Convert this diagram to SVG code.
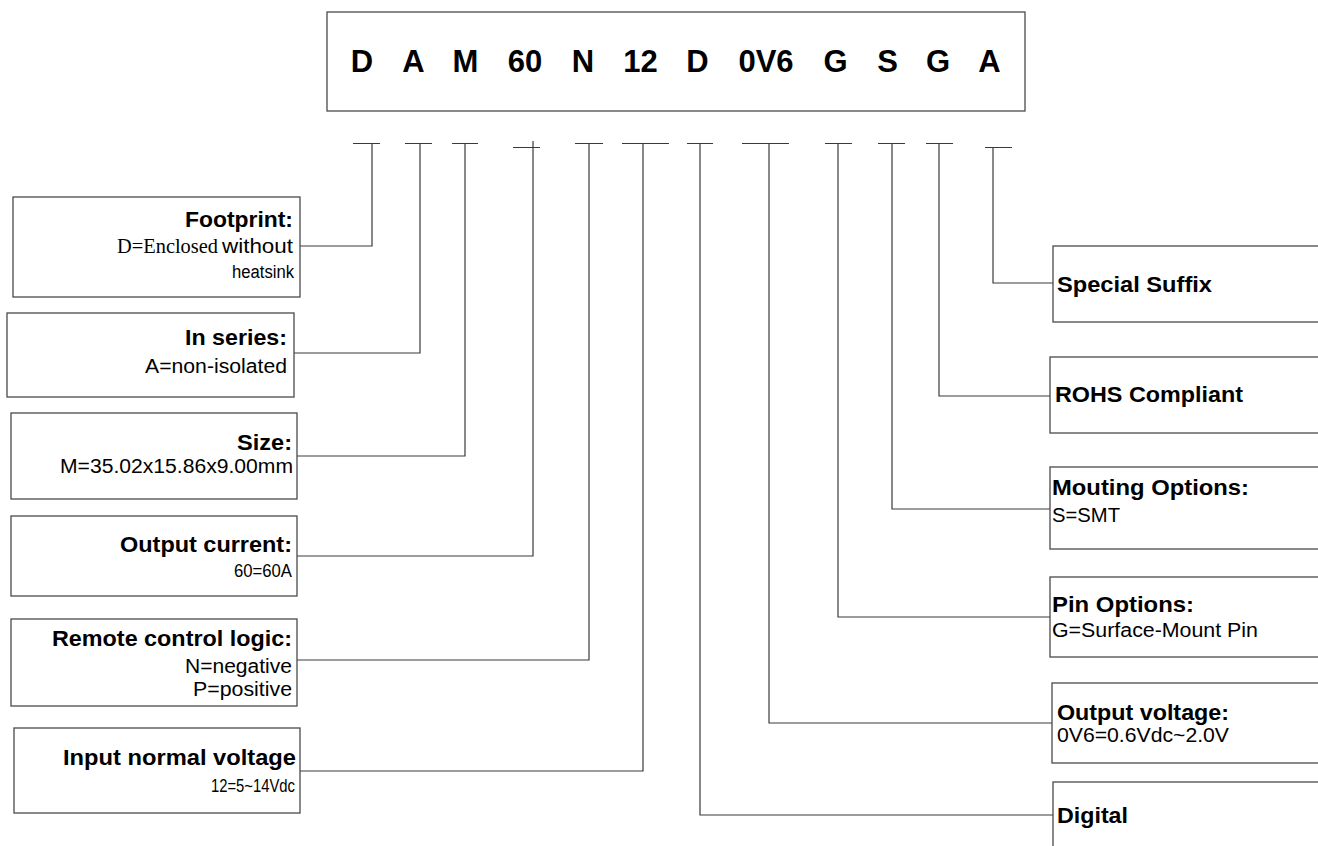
<svg xmlns="http://www.w3.org/2000/svg" width="1318" height="846" viewBox="0 0 1318 846">
<style>
.box{fill:#fff;stroke:#4a4a4a;stroke-width:1.3}
.ln{fill:none;stroke:#3a3a3a;stroke-width:1.2}
.code{font-family:"Liberation Sans",Arial,sans-serif;font-weight:bold;font-size:31px;fill:#000;text-anchor:middle}
.t{font-family:"Liberation Sans",Arial,sans-serif;font-weight:bold;font-size:22px;fill:#000}
.v{font-family:"Liberation Sans",Arial,sans-serif;font-size:20px;fill:#000}
.s{font-size:18px}
.sf{font-family:"Liberation Serif","Times New Roman",serif;font-size:21px;fill:#000}
.e{text-anchor:end}
</style>
<rect width="1318" height="846" fill="#fff"/>
<g id="code">
<rect class="box" x="327" y="12" width="698" height="99"/>
<text class="code" x="362" y="72">D</text>
<text class="code" x="413.5" y="72">A</text>
<text class="code" x="465.5" y="72">M</text>
<text class="code" x="525" y="72">60</text>
<text class="code" x="583" y="72">N</text>
<text class="code" x="640.5" y="72">12</text>
<text class="code" x="697.5" y="72">D</text>
<text class="code" x="766" y="72">0V6</text>
<text class="code" x="835.5" y="72">G</text>
<text class="code" x="887.5" y="72">S</text>
<text class="code" x="938" y="72">G</text>
<text class="code" x="989.5" y="72">A</text>
</g>
<g id="connectors">
<path class="ln" d="M353 143.5H380M372 143.5V246H300"/>
<path class="ln" d="M405 143.5H432M420 143.5V353H294"/>
<path class="ln" d="M452 143.5H478M465 143.5V456H297"/>
<path class="ln" d="M513 147.5H540M533 141V556H297"/>
<path class="ln" d="M575 143.5H603M589 143.5V660H297"/>
<path class="ln" d="M622 143.5H669M643 143.5V771H300"/>
<path class="ln" d="M687 143.5H713M700 143.5V815H1053"/>
<path class="ln" d="M742 143.5H789M769 143.5V723H1052"/>
<path class="ln" d="M825 143.5H852M838 143.5V617H1050"/>
<path class="ln" d="M878 143.5H905M892 143.5V509H1050"/>
<path class="ln" d="M926 143.5H953M939 143.5V396H1050"/>
<path class="ln" d="M985 147.5H1012M993 147.5V283H1053"/>
</g>
<g id="footprint">
<rect class="box" x="13" y="197" width="287" height="100"/>
<text class="t e" x="293" y="227" textLength="108" lengthAdjust="spacingAndGlyphs">Footprint:</text>
<text y="253"><tspan class="sf" x="117" textLength="101" lengthAdjust="spacingAndGlyphs">D=Enclosed</tspan><tspan class="v" x="222" textLength="71" lengthAdjust="spacingAndGlyphs">without</tspan></text>
<text class="v s e" x="294" y="278" textLength="62" lengthAdjust="spacingAndGlyphs">heatsink</text>
</g>
<g id="series">
<rect class="box" x="7" y="313" width="287" height="84"/>
<text class="t e" x="287" y="345" textLength="102" lengthAdjust="spacingAndGlyphs">In series:</text>
<text class="v e" x="287" y="373" textLength="142" lengthAdjust="spacingAndGlyphs">A=non-isolated</text>
</g>
<g id="size">
<rect class="box" x="11" y="413" width="286" height="86"/>
<text class="t e" x="292" y="450" textLength="55" lengthAdjust="spacingAndGlyphs">Size:</text>
<text class="v e" x="293" y="473" textLength="233" lengthAdjust="spacingAndGlyphs">M=35.02x15.86x9.00mm</text>
</g>
<g id="current">
<rect class="box" x="11" y="516" width="286" height="80"/>
<text class="t e" x="292" y="552" textLength="172" lengthAdjust="spacingAndGlyphs">Output current:</text>
<text class="v s e" x="292" y="577" textLength="58" lengthAdjust="spacingAndGlyphs">60=60A</text>
</g>
<g id="remote">
<rect class="box" x="11" y="619" width="286" height="87"/>
<text class="t e" x="292" y="646" textLength="240" lengthAdjust="spacingAndGlyphs">Remote control logic:</text>
<text class="v e" x="292" y="673" textLength="107" lengthAdjust="spacingAndGlyphs">N=negative</text>
<text class="v e" x="292" y="696" textLength="99" lengthAdjust="spacingAndGlyphs">P=positive</text>
</g>
<g id="input">
<rect class="box" x="14" y="728" width="286" height="85"/>
<text class="t e" x="296" y="765" textLength="233" lengthAdjust="spacingAndGlyphs">Input normal voltage</text>
<text class="v s e" x="295" y="792" textLength="84" lengthAdjust="spacingAndGlyphs">12=5~14Vdc</text>
</g>
<g id="suffix">
<rect class="box" x="1053" y="246" width="300" height="76"/>
<text class="t" x="1057" y="292" textLength="155" lengthAdjust="spacingAndGlyphs">Special Suffix</text>
</g>
<g id="rohs">
<rect class="box" x="1050" y="357" width="300" height="76"/>
<text class="t" x="1055" y="402" textLength="188" lengthAdjust="spacingAndGlyphs">ROHS Compliant</text>
</g>
<g id="mounting">
<rect class="box" x="1050" y="467" width="300" height="82"/>
<text class="t" x="1052" y="495" textLength="197" lengthAdjust="spacingAndGlyphs">Mouting Options:</text>
<text class="v" x="1052" y="522" textLength="68" lengthAdjust="spacingAndGlyphs">S=SMT</text>
</g>
<g id="pin">
<rect class="box" x="1050" y="577" width="300" height="80"/>
<text class="t" x="1052" y="612" textLength="142" lengthAdjust="spacingAndGlyphs">Pin Options:</text>
<text class="v" x="1052" y="637" textLength="206" lengthAdjust="spacingAndGlyphs">G=Surface-Mount Pin</text>
</g>
<g id="outvolt">
<rect class="box" x="1052" y="683" width="300" height="80"/>
<text class="t" x="1057" y="720" textLength="172" lengthAdjust="spacingAndGlyphs">Output voltage:</text>
<text class="v" x="1057" y="742" textLength="172" lengthAdjust="spacingAndGlyphs">0V6=0.6Vdc~2.0V</text>
</g>
<g id="digital">
<rect class="box" x="1053" y="782" width="300" height="80"/>
<text class="t" x="1057" y="823" textLength="71" lengthAdjust="spacingAndGlyphs">Digital</text>
</g>
</svg>
